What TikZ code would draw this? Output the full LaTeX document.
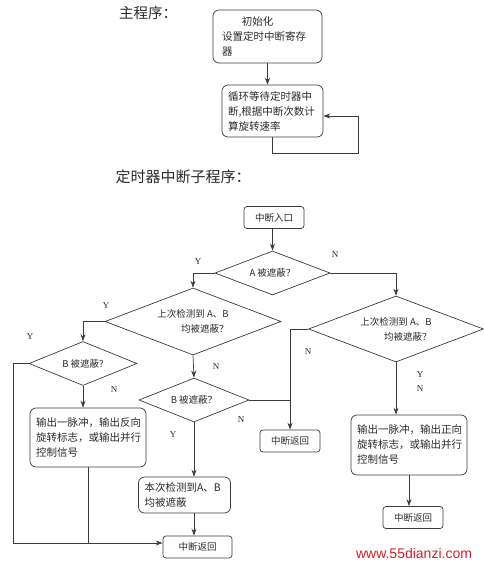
\documentclass[tikz,border=0pt]{standalone}
\usepackage{fontspec}
\setmainfont{Liberation Serif}
\newfontfamily\cjk{Noto Sans CJK SC}
\newfontfamily\webfont{Liberation Sans}
\usetikzlibrary{positioning,arrows.meta,shapes.geometric}
\definecolor{lineGray}{HTML}{3C3C3C}
\definecolor{textGray}{HTML}{2A2A2A}
\definecolor{markRed}{HTML}{D0202A}

\begin{document}
\begin{tikzpicture}[
  x=1pt, y=-1pt,
  every node/.style={text=textGray},
  titleText/.style={font=\cjk\fontsize{14.5}{16}\selectfont},
  procBox/.style={draw=lineGray, line width=0.7pt, rounded corners=6pt, align=left,
    inner xsep=6pt, inner ysep=3pt, font=\cjk\fontsize{10.5}{15}\selectfont},
  smallBox/.style={draw=lineGray, line width=0.7pt, rounded corners=3pt, inner sep=0pt,
    minimum width=60pt, minimum height=22pt, font=\cjk\fontsize{9.5}{11}\selectfont},
  decision/.style={draw=lineGray, line width=0.7pt, diamond, shape aspect=2.6, inner sep=0pt,
    align=right, font=\cjk\fontsize{9.5}{15}\selectfont},
  yn/.style={font=\fontsize{9}{10}\selectfont},
  flow/.style={draw=lineGray, line width=0.7pt, -{Stealth[length=7pt,width=5pt]}},
  link/.style={draw=lineGray, line width=0.7pt}
]
  \useasboundingbox (0,0) rectangle (484,565);

  % Main program
  \node[titleText] (mainTitle) at (148,13) {主程序：};
  \node[procBox, text width=91pt, minimum height=53pt, inner xsep=9pt] (init) at (267.5,36.5)
    {\hspace{1.9em}初始化\\设置定时中断寄存\\器};
  \node[procBox, text width=89pt, minimum height=52pt] (loop) at (272.5,111)
    {循环等待定时器中\\断,根据中断次数计\\算旋转速率};
  \coordinate (loopCorner) at (358,153);
  \draw[flow] (init.south) -- (init.south |- loop.north);
  \draw[flow] (loop.south) |- (loopCorner) |- ([yshift=-5pt]loop.east);

  % Timer interrupt routine
  \node[titleText, font=\cjk\fontsize{15}{16}\selectfont] (isrTitle) at (183,177) {定时器中断子程序：};
  \node[smallBox] (entry) at (274,217.5) {中断入口};
  \node[decision, minimum width=115pt, minimum height=44pt] (checkA) at (272.5,273) {A 被遮蔽？};
  \draw[flow] (entry.south -| checkA) -- (checkA.north);

  % left branch
  \node[decision, minimum width=176pt, minimum height=67pt] (prevL) at (193,321.5)
    {上次检测到 A、B\\均被遮蔽？};
  \node[decision, minimum width=108pt, minimum height=44pt] (bLeft) at (83,363.5) {B 被遮蔽?};
  \node[decision, minimum width=110pt, minimum height=44pt] (bMid) at (194,400) {B 被遮蔽？};
  \node[procBox, text width=104pt, minimum height=59pt] (revOut) at (88,437.5)
    {输出一脉冲，输出反向\\旋转标志，或输出并行\\控制信号};
  \node[procBox, text width=80pt, minimum height=36pt, inner ysep=2pt] (bothOut) at (184.5,495)
    {本次检测到A、B\\均被遮蔽};
  \node[smallBox, minimum width=69pt] (retEnd) at (197.5,547) {中断返回};
  \coordinate (railLeft) at (13,543);

  \draw[flow] (checkA.west) -| (prevL.north);
  \draw[flow] (prevL.west) -| (bLeft.north);
  \draw[flow] (prevL.south) -- (bMid.north);
  \draw[flow] (bLeft.south) -- (bLeft.south |- revOut.north);
  \draw[flow] (bLeft.west) -| (railLeft) -- (railLeft -| retEnd.west);
  \draw[link] (revOut.south) -- (revOut.south |- railLeft);
  \draw[flow] (bMid.south) -- (bMid.south |- bothOut.north);
  \draw[flow] (bothOut.south -| bMid.south) -- (bMid.south |- retEnd.north);

  % right branch
  \node[decision, minimum width=175pt, minimum height=66pt] (prevR) at (396,329)
    {上次检测到 A、B\\均被遮蔽？};
  \node[smallBox] (retMid) at (290,441) {中断返回};
  \node[procBox, text width=104pt, minimum height=60pt] (fwdOut) at (409,445)
    {输出一脉冲，输出正向\\旋转标志，或输出并行\\控制信号};
  \node[smallBox] (retRight) at (413,517.5) {中断返回};

  \draw[flow] (checkA.east) -| (prevR.north);
  \draw[flow] (prevR.west) -| (retMid.north);
  \draw[link] (bMid.east) -- (bMid.east -| retMid.north);
  \draw[flow] (prevR.south) -- (prevR.south |- fwdOut.north);
  \draw[flow] (fwdOut.south) -- (fwdOut.south |- retRight.north);

  % Y / N labels
  \node[yn] (yA) at (198,262) {Y};
  \node[yn] (nA) at (335,255) {N};
  \node[yn] (yPrevL) at (106,306) {Y};
  \node[yn] (nPrevL) at (216,367) {N};
  \node[yn] (yLeft) at (30,337) {Y};
  \node[yn] (nLeft) at (114,390) {N};
  \node[yn] (yMid) at (173,435) {Y};
  \node[yn] (nMid) at (241,420) {N};
  \node[yn] (nPrevR) at (308,352) {N};
  \node[yn] (yPrevR) at (420,375) {Y};
  \node[yn] (nPrevR2) at (420,389) {N};

  % watermark
  \node[font=\webfont\fontsize{14}{16}\selectfont, text=markRed] (webMark) at (414,553) {www.55dianzi.com};
\end{tikzpicture}
\end{document}
